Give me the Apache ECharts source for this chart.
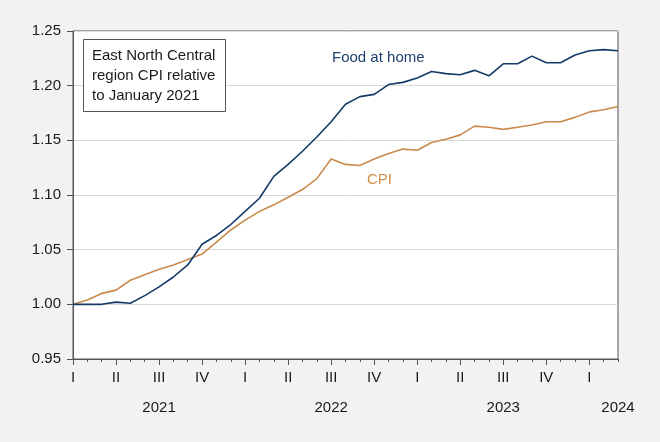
<!DOCTYPE html>
<html>
  <head>
    <meta charset="utf-8" />
    <title>ECharts</title>
    <script src="https://cdn.jsdelivr.net/npm/echarts@6.0.0/dist/echarts.min.js"></script>
    <style>
      html, body { margin: 0; padding: 0; background: #f2f2f2; }
    </style>
  </head>
  <body>
    <div id="main" style="width: 660px; height: 442px"></div>

    <script type="text/javascript">
      // 月份（2021年1月 - 2024年3月）
      const months = [
        '2021-01', '2021-02', '2021-03', '2021-04', '2021-05', '2021-06',
        '2021-07', '2021-08', '2021-09', '2021-10', '2021-11', '2021-12',
        '2022-01', '2022-02', '2022-03', '2022-04', '2022-05', '2022-06',
        '2022-07', '2022-08', '2022-09', '2022-10', '2022-11', '2022-12',
        '2023-01', '2023-02', '2023-03', '2023-04', '2023-05', '2023-06',
        '2023-07', '2023-08', '2023-09', '2023-10', '2023-11', '2023-12',
        '2024-01', '2024-02', '2024-03'
      ]

      // Food at home 相对 2021年1月
      const foodAtHome = [
        1.000, 1.000, 1.000, 1.002, 1.001, 1.008, 1.016, 1.025, 1.036, 1.055, 1.063, 1.073,
        1.085, 1.097, 1.117, 1.128, 1.140, 1.153, 1.167, 1.183, 1.190, 1.192, 1.201, 1.203,
        1.207, 1.213, 1.211, 1.210, 1.214, 1.209, 1.220, 1.220, 1.227, 1.221, 1.221, 1.228,
        1.232, 1.233, 1.232
      ]

      // CPI 相对 2021年1月
      const cpi = [
        1.000, 1.004, 1.010, 1.013, 1.022, 1.027, 1.032, 1.036, 1.041, 1.046, 1.057, 1.068,
        1.077, 1.085, 1.091, 1.098, 1.105, 1.115, 1.133, 1.128, 1.127, 1.133, 1.138, 1.142,
        1.141, 1.148, 1.151, 1.155, 1.163, 1.162, 1.160, 1.162, 1.164, 1.167, 1.167, 1.171,
        1.176, 1.178, 1.181
      ]

      // 刻度标签
      const quarterNames = ['I', 'II', 'III', 'IV']
      const yearLabelMonths = ['2021-07', '2022-07', '2023-07', '2024-03']
      const yearLabels = ['2021', '2022', '2023', '2024']
      const yTicks = { min: 0.95, max: 1.25, step: 0.05 }

      const titleLines = ['East North Central', 'region CPI relative', 'to January 2021']

      const font = 'Liberation Sans, Arial, sans-serif'
      const axisColor = '#555555'

      function monthNum(m) {
        return parseInt(m.slice(5), 10)
      }

      var myChart = echarts.init(document.getElementById('main'))

      const baseX = {
        type: 'category',
        data: months,
        boundaryGap: false,
        position: 'bottom',
        gridIndex: 0,
      }

      option = {
        backgroundColor: '#f2f2f2',
        animation: false,
        grid: {
          left: 73,
          right: 42,
          top: 31,
          bottom: 83,
          show: true,
          backgroundColor: '#ffffff',
          borderColor: axisColor,
          borderWidth: 1,
        },
        xAxis: [
          // 每月小刻度
          Object.assign({}, baseX, {
            axisLine: { lineStyle: { color: axisColor, width: 1 } },
            axisTick: { show: true, interval: 0, length: 3, lineStyle: { color: axisColor } },
            axisLabel: { show: false },
            splitLine: { show: false },
          }),
          // 季度刻度和罗马数字
          Object.assign({}, baseX, {
            axisLine: { show: false },
            axisTick: {
              show: true,
              length: 6,
              interval: (i, v) => (monthNum(v) - 1) % 3 === 0,
              lineStyle: { color: axisColor },
            },
            axisLabel: {
              interval: (i, v) => (monthNum(v) - 1) % 3 === 0,
              formatter: (v) => quarterNames[(monthNum(v) - 1) / 3],
              margin: 11,
              color: '#1a1a1a',
              fontSize: 15,
              fontFamily: font,
            },
            splitLine: { show: false },
          }),
          // 年份
          Object.assign({}, baseX, {
            axisLine: { show: false },
            axisTick: { show: false },
            axisLabel: {
              interval: (i, v) => yearLabelMonths.indexOf(v) >= 0,
              formatter: (v) => yearLabels[yearLabelMonths.indexOf(v)],
              margin: 41,
              color: '#1a1a1a',
              fontSize: 15,
              fontFamily: font,
            },
            splitLine: { show: false },
          }),
        ],
        yAxis: {
          type: 'value',
          min: yTicks.min,
          max: yTicks.max,
          interval: yTicks.step,
          axisLine: { show: true, lineStyle: { color: axisColor } },
          axisTick: { show: true, length: 6, lineStyle: { color: axisColor } },
          axisLabel: {
            formatter: (v) => v.toFixed(2),
            margin: 12,
            color: '#1a1a1a',
            fontSize: 15,
            fontFamily: font,
          },
          splitLine: { show: true, lineStyle: { color: '#d9d9d9', width: 1 } },
        },
        series: [
          {
            name: 'Food at home',
            type: 'line',
            data: foodAtHome,
            symbol: 'none',
            lineStyle: { color: '#143a68', width: 1.6 },
            z: 3,
          },
          {
            name: 'CPI',
            type: 'line',
            data: cpi,
            symbol: 'none',
            lineStyle: { color: '#c98a4c', width: 1.6 },
            z: 2,
          },
        ],
        graphic: [
          {
            type: 'rect',
            left: 83,
            top: 39,
            shape: { width: 142, height: 72 },
            style: { fill: '#ffffff', stroke: axisColor, lineWidth: 1 },
            z: 10,
          },
          {
            type: 'text',
            left: 92,
            top: 46,
            style: {
              text: titleLines.join('\n'),
              font: '15px ' + font,
              lineHeight: 20,
              fill: '#1a1a1a',
            },
            z: 11,
          },
          {
            type: 'text',
            left: 332,
            top: 50,
            style: { text: 'Food at home', font: '15px ' + font, fill: '#1f3f6e' },
            z: 11,
          },
          {
            type: 'text',
            left: 367,
            top: 172,
            style: { text: 'CPI', font: '15px ' + font, fill: '#cf8f48' },
            z: 11,
          },
        ],
      }

      myChart.setOption(option)
    </script>
  </body>
</html>
